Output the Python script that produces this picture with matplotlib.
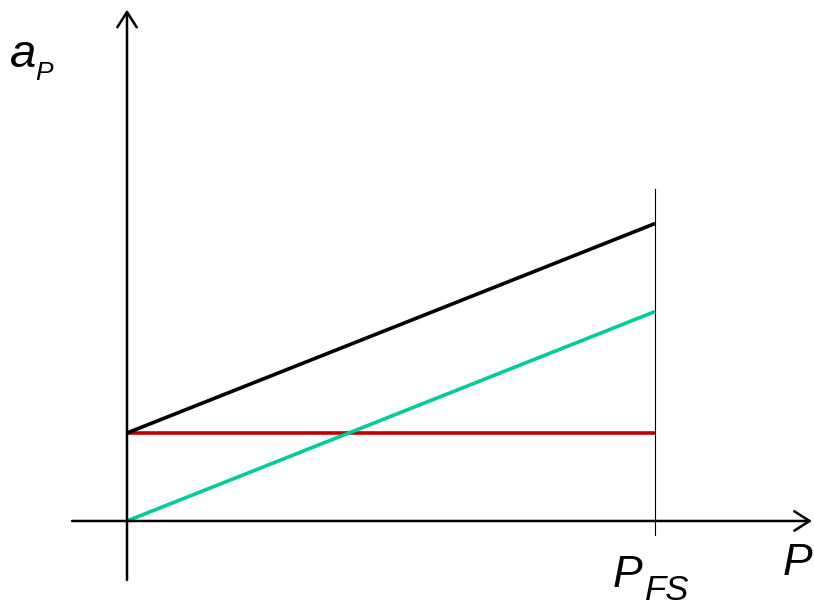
import numpy as np
import matplotlib
matplotlib.use("Agg")
import matplotlib.pyplot as plt

# data: P in units of P_FS, a_P in units of the constant term
p_end = 1.0
a_const = 1.0
slope = 2.38

P = np.array([0.0, p_end])
a_total = a_const + slope * P      # black
a_prop = slope * P                 # teal
a_fixed = a_const + 0 * P          # red

W, H = 814, 606
fig = plt.figure(figsize=(W / 100, H / 100), dpi=100)
ax = fig.add_axes([0, 0, 1, 1])
ax.set_xlim(-0.2405, 1.301)
ax.set_ylim(-0.966, 5.92)
ax.axis("off")

# axes with open arrows
arrow = dict(arrowstyle="->,head_length=1.1,head_width=0.7", lw=1.8, color="black",
             shrinkA=0, shrinkB=0)
ax.annotate("", xy=(1.297, 0), xytext=(-0.104, 0), arrowprops=arrow)
ax.annotate("", xy=(0, 5.81), xytext=(0, -0.67), arrowprops=arrow)

# full-scale marker
ax.plot([p_end, p_end], [-0.16, 3.77], color="black", lw=0.8)

ax.plot(P, a_fixed, color="#C00000", lw=2.6, solid_capstyle="butt")
ax.plot(P, a_prop, color="#00CC99", lw=2.6, solid_capstyle="butt")
ax.plot(P, a_total, color="black", lw=2.6, solid_capstyle="butt")

font = dict(family="Liberation Sans", style="italic", va="baseline", ha="left")

def px(x, y):
    return x / W, 1 - y / H

fig.text(*px(10, 67), "a", fontsize=34, **font)
fig.text(*px(35, 80), "P", fontsize=19, **font)
fig.text(*px(613, 587), "P", fontsize=32, **font)
fig.text(*px(645, 600), "FS", fontsize=25, **font)
fig.text(*px(783, 575), "P", fontsize=32, **font)

fig.savefig("out.png", dpi=100)
